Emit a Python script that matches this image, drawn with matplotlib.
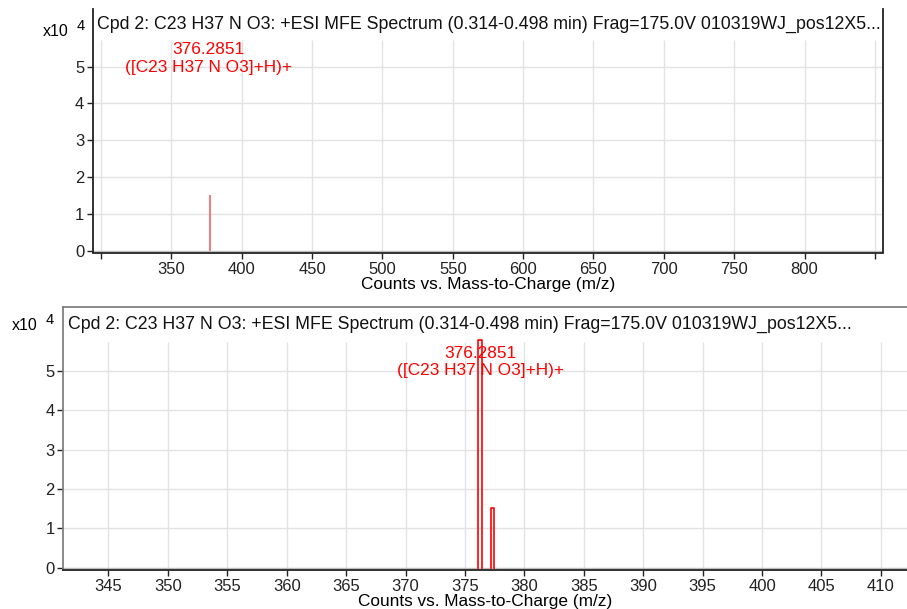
import matplotlib
matplotlib.use("Agg")
import matplotlib.pyplot as plt

plt.rcParams['font.family'] = ['Liberation Sans', 'DejaVu Sans']

# --- data -------------------------------------------------------------
title = "Cpd 2: C23 H37 N O3: +ESI MFE Spectrum (0.314-0.498 min) Frag=175.0V 010319WJ_pos12X5..."
xlabel = "Counts vs. Mass-to-Charge (m/z)"

# overview spectrum (wide m/z range)
overview_mz = [377.29]
overview_counts = [1.51]           # x10^4
overview_ticks = [300, 350, 400, 450, 500, 550, 600, 650, 700, 750, 800, 850]
overview_ticklabels = ["", "350", "400", "450", "500", "550", "600", "650", "700", "750", "800", ""]

# zoomed spectrum (profile peaks)
zoom_mz = [376.23, 377.30]
zoom_counts = [5.78, 1.51]          # x10^4
zoom_width = [0.34, 0.29]
zoom_ticks = [345, 350, 355, 360, 365, 370, 375, 380, 385, 390, 395, 400, 405, 410]

ion_mz = 376.2851
ion_label = "376.2851\n([C23 H37 N O3]+H)+"
y_ticks = [0, 1, 2, 3, 4, 5]

W, H = 907, 609
fig = plt.figure(figsize=(W / 100, H / 100), dpi=100)

GRID = "#e2e2e2"
RED = "#ff0000"


def px_axes(left, top, right, bottom):
    return fig.add_axes([left / W, 1 - bottom / H, (right - left) / W, (bottom - top) / H])


def style(ax, xlim, ylim, xticks, xticklabels, grid_top, spine_col, title_y):
    ax.set_xlim(*xlim)
    ax.set_ylim(*ylim)
    ax.set_xticks(xticks)
    ax.set_xticklabels(xticklabels)
    ax.set_yticks(y_ticks)
    ax.set_yticklabels([str(v) for v in y_ticks])
    ax.tick_params(axis='both', direction='out', length=4, width=1, colors='#222222',
                   labelsize=12, pad=2)
    ax.tick_params(axis='x', pad=3)
    ax.vlines(xticks, 0, grid_top, color=GRID, lw=1, zorder=0)
    for v in y_ticks:
        ax.axhline(v, color=GRID if v else "#bdbdbd", lw=1, zorder=0)
    for s in ax.spines.values():
        s.set_color(spine_col)
        s.set_linewidth(1.3)
    ax.spines['bottom'].set_color('#222222')
    ax.text(0.005, title_y, title, transform=ax.transAxes, fontsize=12.75,
            ha='left', va='center', color='#111111')
    ax.set_xlabel(xlabel, fontsize=12.4, labelpad=0)


# --- overview panel ----------------------------------------------------
ax1 = px_axes(92.7, 9, 883, 252.5)
style(ax1, (294, 855.8), (-0.04, 6.56), overview_ticks, overview_ticklabels,
      5.72, '#222222', 0.936)
ax1.spines['top'].set_visible(False)
ax1.vlines(overview_mz, 0, overview_counts, color='#f47a7a', lw=1.4, zorder=3)
ax1.text(ion_mz, 5.22, ion_label, color=RED, fontsize=12.4, ha='center', va='center',
         linespacing=1.2)
fig.text(43 / W, 1 - 31 / H, "x10", fontsize=11.5, ha='left', va='center')
fig.text(77 / W, 1 - 26 / H, "4", fontsize=10.5, ha='left', va='center')

# --- zoomed panel ------------------------------------------------------
ax2 = px_axes(63.3, 307, 907, 569.7)
style(ax2, (341.2, 412.2), (-0.05, 6.62), zoom_ticks, [str(t) for t in zoom_ticks],
      5.74, '#808080', 0.933)
ax2.spines['right'].set_visible(False)
for mz, h, w in zip(zoom_mz, zoom_counts, zoom_width):
    ax2.plot([mz - w / 2, mz - w / 2, mz + w / 2, mz + w / 2], [0, h, h, 0],
             color=RED, lw=1.2, zorder=3)
ax2.text(ion_mz, 5.22, ion_label, color=RED, fontsize=12.4, ha='center', va='center',
         linespacing=1.2)
fig.text(12 / W, 1 - 325 / H, "x10", fontsize=11.5, ha='left', va='center')
fig.text(46 / W, 1 - 320 / H, "4", fontsize=10.5, ha='left', va='center')

fig.savefig("out.png", dpi=100)
